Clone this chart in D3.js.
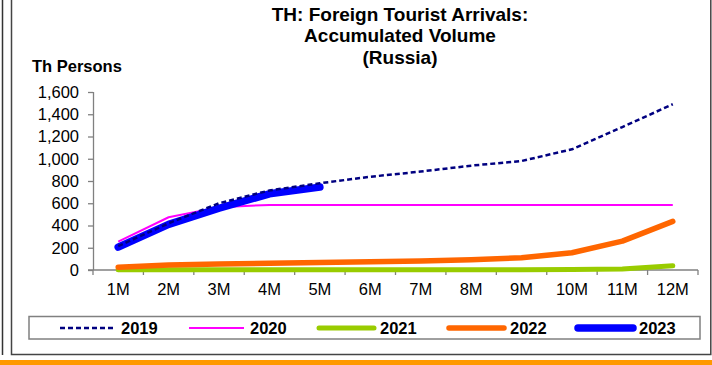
<!DOCTYPE html>
<html><head><meta charset="utf-8">
<script src="https://cdn.jsdelivr.net/npm/d3@7"></script>
<style>body{margin:0;background:#fff;}svg{display:block;font-family:"Liberation Sans",Arial,sans-serif;}</style>
</head><body><svg id="c" width="712" height="365"></svg>
<script>
const months = ["1M","2M","3M","4M","5M","6M","7M","8M","9M","10M","11M","12M"];
const yTicks = [0,200,400,600,800,1000,1200,1400,1600];
const s2019 = [215,420,600,715,780,838,885,938,980,1085,1285,1490];
const s2020 = [255,474,565,585,585,585,585,585,585,585,585,585];
const s2021 = [3,3,3,3,3,3,3,3,3,4,10,38];
const s2022 = [25,45,54,60,68,74,82,93,110,155,260,437];
const s2023 = [205,410,555,685,745];
const seriesNames = ["2019","2020","2021","2022","2023"];
const seriesColors = ["#000080","#FF00FF","#99CC00","#FF6600","#0000FF"];

const svg = d3.select("#c");
// frames
svg.append("line").attr("x1",2.5).attr("x2",2.5).attr("y1",0).attr("y2",355).attr("stroke","#333").attr("stroke-width",1.5);
svg.append("path").attr("d","M11.5,0 V354.5 H710.8 V0").attr("fill","none").attr("stroke","#444").attr("stroke-width",1.5);
svg.append("rect").attr("x",0).attr("y",360).attr("width",712).attr("height",5).attr("fill","#FF9900");

// title
const title = ["TH: Foreign Tourist Arrivals:","Accumulated Volume","(Russia)"];
svg.append("g").selectAll("text").data(title).join("text")
  .attr("x",400).attr("y",(d,i)=>20.5+i*21.7).attr("text-anchor","middle")
  .attr("font-size",19).attr("font-weight","bold").attr("fill","#000").text(d=>d);
svg.append("text").attr("x",32).attr("y",72).attr("font-size",16.5).attr("font-weight","bold").text("Th Persons");

const x = d3.scaleBand().domain(months).range([93,698]).paddingInner(0).paddingOuter(0);
const y = d3.scaleLinear().domain([0,1600]).range([270,92]);

// y axis
const yAxis = svg.append("g").attr("transform","translate(93,0)")
  .call(d3.axisLeft(y).tickValues(yTicks).tickSize(5).tickPadding(9).tickFormat(d3.format(",")));
yAxis.attr("font-size",null).attr("font-family",null);
yAxis.selectAll("text").attr("font-size",16.5).attr("fill","#000");
yAxis.selectAll("line,path").attr("stroke","#808080").attr("stroke-width",1.3);
yAxis.select("path").attr("d","M0.5,92 V270");

// x axis
const xg = svg.append("g");
xg.append("line").attr("x1",88).attr("x2",698).attr("y1",270).attr("y2",270).attr("stroke","#808080").attr("stroke-width",1.5);
const bounds = months.map(m=>x(m)).concat([x.range()[1]]);
xg.selectAll("line.t").data(bounds).join("line").attr("class","t")
  .attr("x1",d=>d).attr("x2",d=>d).attr("y1",270).attr("y2",275).attr("stroke","#808080").attr("stroke-width",1.3);
xg.selectAll("text").data(months).join("text")
  .attr("x",d=>x(d)+x.bandwidth()/2).attr("y",295).attr("text-anchor","middle")
  .attr("font-size",16.5).attr("fill","#000").text(d=>d);

const cx = (d,i)=>x(months[i])+x.bandwidth()/2;
const line = d3.line().x(cx).y(d=>y(d));
const styles = [
  {w:2.5,dash:"5,3",cap:"butt"},
  {w:2,dash:null,cap:"butt"},
  {w:5,dash:null,cap:"round"},
  {w:5.5,dash:null,cap:"round"},
  {w:7.5,dash:null,cap:"round"}
];
const allSeries = [s2019,s2020,s2021,s2022,s2023];
const order = [2,3,1,4,0];
order.forEach(k=>{
  svg.append("path").datum(allSeries[k]).attr("d",line)
    .attr("fill","none").attr("stroke",seriesColors[k]).attr("stroke-width",styles[k].w)
    .attr("stroke-dasharray",styles[k].dash).attr("stroke-linecap",styles[k].cap).attr("stroke-linejoin","round");
});

// legend
svg.append("rect").attr("x",29).attr("y",316.5).attr("width",671).attr("height",22.5)
  .attr("fill","none").attr("stroke","#808080").attr("stroke-width",1.5);
const legX = [60,189,319,449,578];
seriesNames.forEach((n,k)=>{
  const g = svg.append("g");
  g.append("line").attr("x1",legX[k]).attr("x2",legX[k]+55).attr("y1",328).attr("y2",328)
    .attr("stroke",seriesColors[k]).attr("stroke-width",styles[k].w)
    .attr("stroke-dasharray",styles[k].dash).attr("stroke-linecap",styles[k].cap);
  g.append("text").attr("x",legX[k]+61).attr("y",334).attr("font-size",16.5).attr("font-weight","bold").text(n);
});
</script></body></html>
